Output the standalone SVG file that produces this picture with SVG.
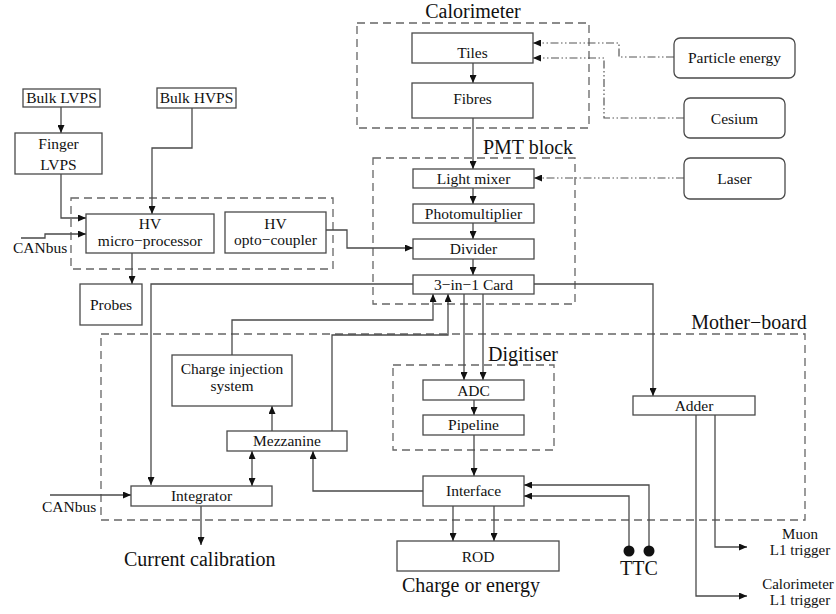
<svg xmlns="http://www.w3.org/2000/svg" width="836" height="614" viewBox="0 0 836 614">
<defs>
<marker id="ah" markerUnits="userSpaceOnUse" markerWidth="8" markerHeight="7" refX="8" refY="3.5" orient="auto-start-reverse">
<path d="M0,0 L8,3.5 L0,7 z" fill="#111"/>
</marker>
<style>
.box{fill:#fff;stroke:#4a4a4a;stroke-width:1.3}
.rbox{fill:#fff;stroke:#4a4a4a;stroke-width:1.3}
.grp{fill:none;stroke:#666;stroke-width:1.3;stroke-dasharray:8 5}
.ln{fill:none;stroke:#4a4a4a;stroke-width:1.3}
.arr{marker-end:url(#ah)}
.dd{fill:none;stroke:#555;stroke-width:1.2;stroke-dasharray:8 2.5 1.5 2.5 1.5 2.5}
text{font-family:"Liberation Serif","Times New Roman",serif;fill:#111}
.lb{font-size:15.5px;text-anchor:middle}
.tt{font-size:20px}
.sm{font-size:15px;text-anchor:middle}
</style>
</defs>
<rect width="836" height="614" fill="#fff"/>

<g id="calorimeter-group">
<rect class="grp" x="357" y="23" width="232" height="105"/>
<text class="tt" x="473" y="18" text-anchor="middle">Calorimeter</text>
</g>
<g id="pmt-group">
<rect class="grp" x="373" y="158" width="202" height="146"/>
<text class="tt" x="528" y="154" text-anchor="middle">PMT block</text>
</g>
<g id="hv-group">
<rect class="grp" x="71" y="198" width="262" height="71"/>
</g>
<g id="motherboard-group">
<rect class="grp" x="101" y="334" width="704" height="186"/>
<text class="tt" x="749" y="329" text-anchor="middle">Mother−board</text>
</g>
<g id="digitiser-group">
<rect class="grp" x="393" y="365" width="161" height="85"/>
<text class="tt" x="488" y="361">Digitiser</text>
</g>

<g id="connectors">
<path class="ln arr" d="M61,107 V133"/>
<path class="ln arr" d="M61,174 V218 H86"/>
<path class="ln arr" d="M21,238 H45 V234 H86"/>
<path class="ln arr" d="M192,108 V148 H152 V214"/>
<path class="ln arr" d="M132,253 V284"/>
<path class="ln arr" d="M326,230 H347 V248 H413"/>
<path class="ln arr" d="M473,63 V83"/>
<path class="ln arr" d="M473,118 V169"/>
<path class="ln arr" d="M473,188 V204"/>
<path class="ln arr" d="M473,223 V239"/>
<path class="ln arr" d="M473,259 V275"/>
<path class="dd arr" d="M674,57 H619 V43 H533"/>
<path class="dd arr" d="M684,118 H604 V58 H533"/>
<path class="dd arr" d="M684,178 H534"/>
<path class="ln arr" d="M413,284 H151 V485"/>
<path class="ln arr" d="M534,284 H653 V396"/>
<path class="ln arr" d="M232,355 V320 H433 V294"/>
<path class="ln arr" d="M332,431 V335 H448 V294"/>
<path class="ln arr" d="M464,294 V380"/>
<path class="ln arr" d="M483,294 V380"/>
<path class="ln arr" d="M474,400 V415"/>
<path class="ln arr" d="M474,435 V476"/>
<path class="ln arr" d="M272,431 V406"/>
<path class="ln arr" d="M252,451 V486" marker-start="url(#ah)"/>
<path class="ln arr" d="M423,491 H313 V451"/>
<path class="ln arr" d="M50,495 H131"/>
<path class="ln arr" d="M201,506 V545"/>
<path class="ln arr" d="M453,506 V541"/>
<path class="ln arr" d="M494,506 V541"/>
<path class="ln arr" d="M649,551 V485 H524"/>
<path class="ln arr" d="M629,551 V496 H524"/>
<circle cx="629" cy="551" r="5.5" fill="#111"/>
<circle cx="649" cy="551" r="5.5" fill="#111"/>
<path class="ln arr" d="M715,415 V547 H747"/>
<path class="ln arr" d="M696,415 V596 H747"/>
</g>

<g id="bulk-lvps"><rect class="box" x="23" y="89" width="77" height="18"/><text class="lb" x="61.5" y="103">Bulk LVPS</text></g>
<g id="bulk-hvps"><rect class="box" x="157" y="88" width="79" height="20"/><text class="lb" x="196.5" y="103">Bulk HVPS</text></g>
<g id="finger-lvps"><rect class="box" x="15" y="133" width="87" height="41"/><text class="lb" x="58.5" y="149">Finger</text><text class="lb" x="58.5" y="170">LVPS</text></g>
<g id="hv-micro"><rect class="box" x="86" y="214" width="128" height="39"/><text class="lb" x="150" y="229">HV</text><text class="lb" x="150" y="246">micro−processor</text></g>
<g id="hv-opto"><rect class="box" x="225" y="212" width="101" height="41"/><text class="lb" x="275.5" y="229">HV</text><text class="lb" x="275.5" y="245">opto−coupler</text></g>
<g id="probes"><rect class="box" x="80" y="284" width="62" height="41"/><text class="lb" x="111" y="310">Probes</text></g>
<g id="tiles"><rect class="box" x="412" y="33" width="121" height="30"/><text class="lb" x="472.5" y="58">Tiles</text></g>
<g id="fibres"><rect class="box" x="412" y="83" width="121" height="35"/><text class="lb" x="472.5" y="104">Fibres</text></g>
<g id="particle-energy"><rect class="rbox" x="674" y="38" width="121" height="40" rx="6"/><text class="lb" x="734.5" y="63">Particle energy</text></g>
<g id="cesium"><rect class="rbox" x="684" y="98" width="101" height="40" rx="6"/><text class="lb" x="734.5" y="124">Cesium</text></g>
<g id="laser"><rect class="rbox" x="684" y="158" width="101" height="41" rx="6"/><text class="lb" x="734.5" y="184">Laser</text></g>
<g id="light-mixer"><rect class="box" x="413" y="169" width="121" height="19"/><text class="lb" x="473.5" y="184">Light mixer</text></g>
<g id="photomultiplier"><rect class="box" x="413" y="204" width="121" height="19"/><text class="lb" x="473.5" y="219">Photomultiplier</text></g>
<g id="divider"><rect class="box" x="413" y="239" width="121" height="20"/><text class="lb" x="473.5" y="254">Divider</text></g>
<g id="three-in-one"><rect class="box" x="413" y="275" width="121" height="19"/><text class="lb" x="473.5" y="290">3−in−1 Card</text></g>
<g id="charge-injection"><rect class="box" x="172" y="355" width="120" height="51"/><text class="lb" x="232" y="374">Charge injection</text><text class="lb" x="232" y="391">system</text></g>
<g id="mezzanine"><rect class="box" x="227" y="431" width="120" height="20"/><text class="lb" x="287" y="446">Mezzanine</text></g>
<g id="integrator"><rect class="box" x="131" y="486" width="141" height="20"/><text class="lb" x="201.5" y="501">Integrator</text></g>
<g id="adc"><rect class="box" x="423" y="380" width="101" height="20"/><text class="lb" x="473.5" y="396">ADC</text></g>
<g id="pipeline"><rect class="box" x="423" y="415" width="101" height="20"/><text class="lb" x="473.5" y="430">Pipeline</text></g>
<g id="interface"><rect class="box" x="423" y="476" width="101" height="30"/><text class="lb" x="473.5" y="496">Interface</text></g>
<g id="rod"><rect class="box" x="397" y="541" width="162" height="30"/><text class="lb" x="478" y="562">ROD</text></g>
<g id="adder"><rect class="box" x="633" y="396" width="122" height="19"/><text class="lb" x="694" y="411">Adder</text></g>

<g id="labels">
<text x="13" y="253" font-size="15.5">CANbus</text>
<text x="42" y="512" font-size="15.5">CANbus</text>
<text class="tt" x="124" y="566">Current calibration</text>
<text class="tt" x="402" y="592">Charge or energy</text>
<text class="tt" x="620" y="575">TTC</text>
<text class="sm" x="800" y="539">Muon</text>
<text class="sm" x="800" y="555">L1 trigger</text>
<text class="sm" x="798" y="589">Calorimeter</text>
<text class="sm" x="800" y="605">L1 trigger</text>
</g>
</svg>
